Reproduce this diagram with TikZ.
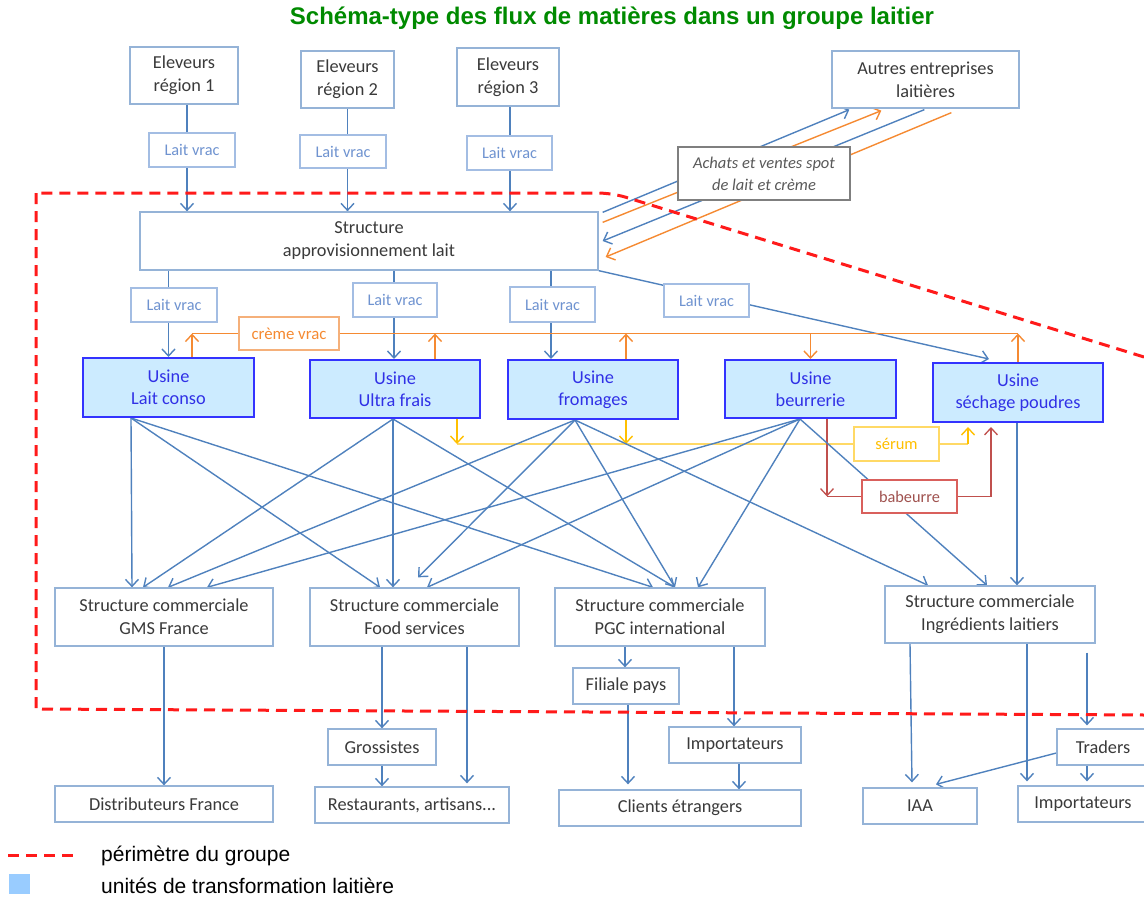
\documentclass[tikz,border=0pt]{standalone}
\usepackage{fontspec}
\setmainfont{Carlito}
\newfontfamily\arialfont{Liberation Sans}
\usetikzlibrary{arrows.meta,calc}
\pgfdeclarelayer{bg}
\pgfsetlayers{bg,main}

\definecolor{titlegreen}{HTML}{008A00}
\definecolor{boxline}{HTML}{95B3D7}
\definecolor{txt}{HTML}{3A3A3A}
\definecolor{flowblue}{HTML}{4F81BD}
\definecolor{lvline}{HTML}{A3BDE3}
\definecolor{lvtxt}{HTML}{6F93D0}
\definecolor{usinefill}{HTML}{CCEBFF}
\definecolor{usineline}{HTML}{3333FF}
\definecolor{usinetxt}{HTML}{3030E6}
\definecolor{orangec}{HTML}{F58A32}
\definecolor{orangebox}{HTML}{F5B07A}
\definecolor{yellowc}{HTML}{FFC000}
\definecolor{yellowline}{HTML}{FFD966}
\definecolor{redc}{HTML}{C0504D}
\definecolor{redbox}{HTML}{D9605C}
\definecolor{redtxt}{HTML}{A0524F}
\definecolor{achline}{HTML}{7F7F7F}
\definecolor{achtxt}{HTML}{595959}
\definecolor{perimred}{HTML}{FF1A1A}
\definecolor{legblue}{HTML}{99CCFF}

\tikzset{
  box/.style={draw=boxline, line width=1.3pt, fill=white, text=txt, align=center,
    inner sep=0pt, font=\fontsize{18.3}{23}\selectfont},
  usine/.style={box, draw=usineline, fill=usinefill, text=usinetxt, line width=2pt,
    font=\fontsize{18.3}{22}\selectfont},
  lbl/.style={box, draw=lvline, text=lvtxt, font=\fontsize{16.3}{18}\selectfont},
  cremebox/.style={box, draw=orangebox, text=orangec, font=\fontsize{16.8}{18}\selectfont},
  serumbox/.style={box, draw=yellowline, text=yellowc, font=\fontsize{16.5}{18}\selectfont},
  babeurrebox/.style={box, draw=redbox, text=redtxt, font=\fontsize{16.3}{18}\selectfont},
  achatsbox/.style={box, draw=achline, text=achtxt, line width=1.3pt,
    font=\fontsize{16.5}{22}\selectfont\itshape},
  tip/.style={-{Straight Barb[length=7pt,width=13pt]}},
  flowline/.style={draw=flowblue, line width=1.4pt},
  flow/.style={flowline, tip},
  cream/.style={draw=orangec, line width=1.4pt},
  serumline/.style={draw=yellowline, line width=1.4pt},
  serumarr/.style={draw=yellowc, line width=1.4pt, tip},
  babline/.style={draw=redc, line width=1.3pt},
  perim/.style={draw=perimred, line width=3pt, dash pattern=on 11pt off 7pt},
  legendtext/.style={anchor=west, inner sep=0pt, font=\arialfont\fontsize{21}{24}\selectfont}
}

\begin{document}
\begin{tikzpicture}[x=1pt,y=-1pt]
\useasboundingbox (0,0) rectangle (1144,899);

% title
\node[font=\arialfont\bfseries\fontsize{24}{28}\selectfont, text=titlegreen] (title) at (612,18)
  {Schéma-type des flux de matières dans un groupe laitier};

% producers and milk collection
\node[box, minimum width=108pt, minimum height=57pt] (e1) at (184,75.5) {Eleveurs\\région 1};
\node[box, minimum width=93pt, minimum height=57pt] (e2) at (347.5,79.5) {Eleveurs\\région 2};
\node[box, minimum width=102pt, minimum height=58pt] (e3) at (508,77) {Eleveurs\\région 3};
\node[box, minimum width=458pt, minimum height=58pt] (sap) at (369,241) {Structure\\approvisionnement lait};
\node[box, minimum width=187pt, minimum height=57pt] (autres) at (925.5,79.5) {Autres entreprises\\laitières};

% factories
\node[usine, minimum width=171pt, minimum height=59pt] (u1) at (168.5,387.5) {Usine\\Lait conso};
\node[usine, minimum width=170pt, minimum height=58pt] (u2) at (395,389) {Usine\\Ultra frais};
\node[usine, minimum width=170pt, minimum height=59pt] (u3) at (593,389.5) {Usine\\fromages};
\node[usine, minimum width=171pt, minimum height=58pt] (u4) at (810.5,389) {Usine\\beurrerie};
\node[usine, minimum width=170pt, minimum height=59pt] (u5) at (1018,392.5) {Usine\\séchage poudres};

% sales structures
\node[box, minimum width=218pt, minimum height=58pt] (sc1) at (164,617) {Structure commerciale\\GMS France};
\node[box, minimum width=209pt, minimum height=58pt] (sc2) at (414.5,617) {Structure commerciale\\Food services};
\node[box, minimum width=210pt, minimum height=58pt] (sc3) at (660,617) {Structure commerciale\\PGC international};
\node[box, minimum width=210pt, minimum height=57pt] (sc4) at (990,614.5) {Structure commerciale\\Ingrédients laitiers};

% customers
\node[box, minimum width=106pt, minimum height=36pt] (filiale) at (626,686) {Filiale pays};
\node[box, minimum width=132pt, minimum height=36pt] (imp1) at (735,745) {Importateurs};
\node[box, minimum width=108pt, minimum height=36pt] (gross) at (382,747) {Grossistes};
\node[box, minimum width=92pt, minimum height=36pt] (traders) at (1103,747) {Traders};
\node[box, minimum width=218pt, minimum height=36pt] (dist) at (164,804) {Distributeurs France};
\node[box, minimum width=194pt, minimum height=36pt] (rest) at (412,805) {Restaurants, artisans...};
\node[box, minimum width=242pt, minimum height=36pt] (clients) at (680,808) {Clients étrangers};
\node[box, minimum width=114pt, minimum height=36pt] (iaa) at (920,806) {IAA};
\node[box, minimum width=130pt, minimum height=36pt] (imp2) at (1083,804) {Importateurs};

% flow labels
\node[lbl, minimum width=86pt, minimum height=34pt] (lv1) at (192,150) {Lait vrac};
\node[lbl, minimum width=86pt, minimum height=33pt] (lv2) at (343,151.5) {Lait vrac};
\node[lbl, minimum width=85pt, minimum height=34pt] (lv3) at (509.5,153) {Lait vrac};
\node[lbl, minimum width=86pt, minimum height=34pt] (lv4) at (174,305) {Lait vrac};
\node[lbl, minimum width=84pt, minimum height=34pt] (lv5) at (395,300) {Lait vrac};
\node[lbl, minimum width=85pt, minimum height=35pt] (lv6) at (552.5,304.5) {Lait vrac};
\node[lbl, minimum width=85pt, minimum height=33pt] (lv7) at (706.5,300.5) {Lait vrac};
\node[cremebox, minimum width=100pt, minimum height=33pt] (creme) at (289,333.5) {crème vrac};
\node[serumbox, minimum width=85pt, minimum height=34pt] (serum) at (896.5,444) {sérum};
\node[babeurrebox, minimum width=95pt, minimum height=33pt] (babeurre) at (909.5,496.5) {babeurre};
\node[achatsbox, minimum width=172pt, minimum height=53pt] (achats) at (764,173.5) {Achats et ventes spot\\de lait et crème};

\begin{pgfonlayer}{bg}
  % milk collection
  \draw[flow] ([xshift=3pt]e1.south) -- ([xshift=3pt]e1.south |- sap.north);
  \draw[flow] (e2.south) -- (e2.south |- sap.north);
  \draw[flow] ([xshift=2pt]e3.south) -- ([xshift=2pt]e3.south |- sap.north);
  % milk to factories
  \draw[flow] (u1.north |- sap.south) -- (u1.north);
  \draw[flow] ([xshift=-1pt]u2.north |- sap.south) -- ([xshift=-1pt]u2.north);
  \draw[flow] ([xshift=-42pt]u3.north |- sap.south) -- ([xshift=-42pt]u3.north);
  \draw[flow] (sap.south east) -- ([xshift=-29pt,yshift=3pt]u5.north);
  % spot purchases and sales
  \draw[flow] ([xshift=4pt,yshift=-1pt]sap.north east) -- ([xshift=18pt,yshift=-1pt]autres.south west);
  \draw[cream,tip] ([xshift=4pt,yshift=-11pt]sap.north east) -- ([xshift=50pt,yshift=-2pt]autres.south west);
  \draw[flow] ([xshift=93pt,yshift=-1pt]autres.south west) -- ([xshift=4pt]sap.east);
  \draw[cream,tip] ([xshift=120pt,yshift=-4pt]autres.south west) -- ([xshift=7pt,yshift=-16pt]sap.east);
  % cream
  \draw[cream] ([xshift=23.5pt]u1.north |- creme) -- (u5.north |- creme);
  \draw[cream,tip] ([xshift=23.5pt]u1.north) -- ([xshift=23.5pt]u1.north |- creme);
  \draw[cream,tip] ([xshift=40pt]u2.north) -- ([xshift=40pt]u2.north |- creme);
  \draw[cream,tip] ([xshift=33pt]u3.north) -- ([xshift=33pt]u3.north |- creme);
  \draw[cream,tip] (u5.north) -- (u5.north |- creme);
  \draw[cream,tip] (u4.north |- creme) -- (u4.north);
  % whey
  \draw[serumline] ([xshift=62pt]u2.south |- serum.west) -- (serum.west);
  \draw[serumline] (serum.east) -- ([xshift=-50pt]u5.south |- serum.east);
  \draw[serumarr] ([xshift=62pt]u2.south) -- ([xshift=62pt]u2.south |- serum.west);
  \draw[serumarr] ([xshift=33pt]u3.south) -- ([xshift=33pt]u3.south |- serum.west);
  \draw[serumarr] ([xshift=-50pt]u5.south |- serum.east) -- ([xshift=-50pt,yshift=-4pt]u5.south);
  % buttermilk
  \draw[babline,tip] ([xshift=16.5pt]u4.south) -- ([xshift=16.5pt]u4.south |- babeurre.west);
  \draw[babline] ([xshift=16.5pt]u4.south |- babeurre.west) -- (babeurre.west);
  \draw[babline] (babeurre.east) -- ([xshift=-27pt]u5.south |- babeurre.east);
  \draw[babline,tip] ([xshift=-27pt]u5.south |- babeurre.east) -- ([xshift=-27pt,yshift=-4pt]u5.south);
  % factories to sales structures
  \draw[flow] ([xshift=-37.5pt]u1.south) -- ([xshift=-32pt]sc1.north);
  \draw[flow] ([xshift=-37.5pt]u1.south) -- ([xshift=-34.5pt]sc2.north);
  \draw[flow] ([xshift=-37.5pt]u1.south) -- ([xshift=-7pt]sc3.north);
  \draw[flow] ([xshift=-2pt]u2.south) -- ([xshift=-21pt]sc1.north);
  \draw[flow] ([xshift=-2pt]u2.south) -- ([xshift=-21.5pt]sc2.north);
  \draw[flow] ([xshift=-2pt]u2.south) -- ([xshift=15pt]sc3.north);
  \draw[flow] ([xshift=-18pt]u3.south) -- ([xshift=4pt]sc1.north);
  \draw[flow] ([xshift=-18pt]u3.south) -- ([xshift=3.5pt,yshift=10pt]sc2.north);
  \draw[flow] ([xshift=-18pt]u3.south) -- ([xshift=15pt]sc3.north);
  \draw[flow] ([xshift=-18pt]u3.south) -- ([xshift=-62pt]sc4.north);
  \draw[flow] ([xshift=-10.5pt]u4.south) -- ([xshift=43pt]sc1.north);
  \draw[flow] ([xshift=-10.5pt]u4.south) -- ([xshift=12.5pt]sc2.north);
  \draw[flow] ([xshift=-10.5pt]u4.south) -- ([xshift=38pt]sc3.north);
  \draw[flow] ([xshift=-10.5pt]u4.south) -- ([xshift=-3pt]sc4.north);
  \draw[flow] ([xshift=-1pt]u5.south) -- ([xshift=27pt]sc4.north);
  % sales structures to customers
  \draw[flow] (sc1.south) -- (dist.north);
  \draw[flow] (gross.north |- sc2.south) -- (gross.north);
  \draw[flow] (gross.south) -- (gross.south |- rest.north);
  \draw[flow] ([xshift=52.5pt]sc2.south) -- ([xshift=52.5pt,yshift=3pt]sc2.south |- rest.north);
  \draw[flow] ([xshift=-1pt,yshift=12pt]filiale.north |- sc3.south) -- ([xshift=-1pt]filiale.north);
  \draw[flow] ([xshift=2pt]filiale.south) -- ([xshift=2pt,yshift=5pt]filiale.south |- clients.north);
  \draw[flow] ([xshift=-1pt]imp1.north |- sc3.south) -- ([xshift=-1pt]imp1.north);
  \draw[flow] ([xshift=4pt]imp1.south) -- ([xshift=4pt]imp1.south |- clients.north);
  \draw[flow] ([xshift=-80pt]sc4.south) -- ([xshift=-8pt,yshift=5pt]iaa.north);
  \draw[flow] ([xshift=37pt]sc4.south) -- ([xshift=37pt,yshift=4pt]sc4.south |- imp2.north);
  \draw[flow] ([xshift=97pt,yshift=-9pt]sc4.south) -- ([xshift=-16pt,yshift=3pt]traders.north);
  \draw[flow] ([xshift=-16pt]traders.south) -- ([xshift=-16pt,yshift=4pt]traders.south |- imp2.north);
  \draw[flow] ([yshift=-6pt]traders.west) -- ([xshift=16pt,yshift=3pt]iaa.north);
\end{pgfonlayer}

% group perimeter: rounded bend at the top right, square corners on the left
\coordinate (pa) at (1144,357);
\coordinate (pb) at (612,193);
\coordinate (pc) at (36,193);
\coordinate (pd) at (36,709);
\coordinate (pe) at (1144,715);
\draw[perim, rounded corners=14pt] (pa) -- (pb) -- (pc);
\draw[perim] (pc) -- (pd) -- (pe);

% legend
\coordinate (la) at (8,855);
\coordinate (lb) at (78,855);
\draw[perim] (la) -- (lb);
\node[legendtext] (lt1) at (101,856) {périmètre du groupe};
\node[fill=legblue, minimum width=21pt, minimum height=20pt, inner sep=0pt] (sq) at (19.5,884) {};
\node[legendtext] (lt2) at (101,886) {unités de transformation laitière};
\end{tikzpicture}
\end{document}
